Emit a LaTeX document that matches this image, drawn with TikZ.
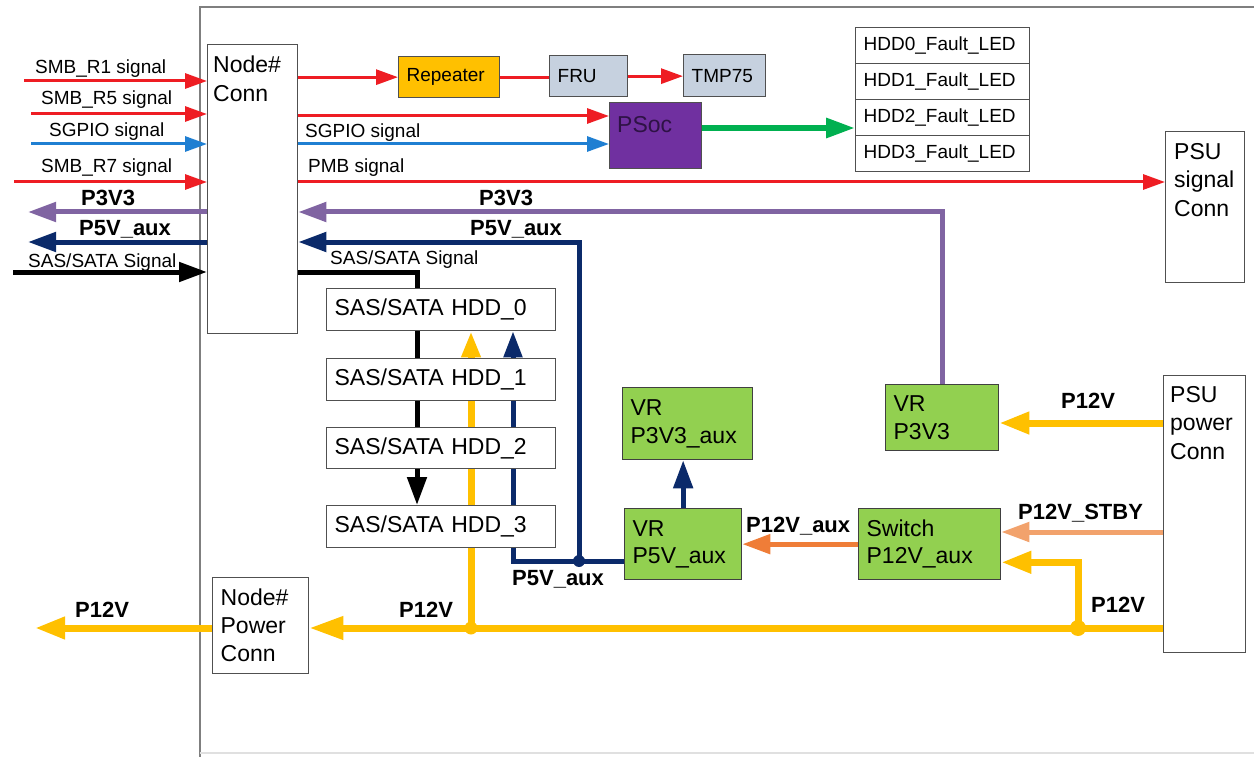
\documentclass[tikz,border=0pt]{standalone}
\usepackage{fontspec}
\setmainfont{Liberation Sans}
\usetikzlibrary{arrows.meta,calc,backgrounds}
\definecolor{cRed}{HTML}{EE1D23}
\definecolor{cBlue}{HTML}{1F7FD2}
\definecolor{cPurple}{HTML}{8064A2}
\definecolor{cNavy}{HTML}{0B2A6A}
\definecolor{cYellow}{HTML}{FFC000}
\definecolor{cOrange}{HTML}{EF7D38}
\definecolor{cPeach}{HTML}{F2A26C}
\definecolor{cGreen}{HTML}{00B050}
\definecolor{cPSoc}{HTML}{7030A0}
\definecolor{cPSocText}{HTML}{2E1245}
\definecolor{cBoxGreen}{HTML}{92D050}
\definecolor{cRep}{HTML}{FFC000}
\definecolor{cGrayBlue}{HTML}{C6D1DF}
\definecolor{cBorder}{HTML}{505050}
\definecolor{cFrame}{HTML}{7F7F7F}
\begin{document}
\begin{tikzpicture}[x=1pt,y=-1pt,
  box/.style={draw=cBorder,line width=1.3pt,anchor=north west,inner xsep=8pt,inner ysep=0pt,align=left,font=\fontsize{23}{27.5}\selectfont},
  sbox/.style={box,font=\fontsize{19}{23}\selectfont},
  gbox/.style={box,fill=cBoxGreen,draw=black!75},
  lbl/.style={anchor=base west,inner sep=0pt,font=\fontsize{19}{23}\selectfont},
  blbl/.style={anchor=base west,inner sep=0pt,font=\fontsize{22}{26}\selectfont\bfseries},
  btxt/.style={anchor=north west,inner sep=0pt,align=left,font=\fontsize{23}{28.5}\selectfont},
  sig/.style={line width=3pt,-{Triangle[length=22pt,width=15pt]}},
  sigline/.style={line width=3pt},
  gsig/.style={cGreen,line width=6pt,-{Triangle[length=29pt,width=19pt]}},
  pwr/.style={line width=5pt,-{Triangle[length=28pt,width=19pt]}},
  pwrline/.style={line width=5pt},
  ypwr/.style={cYellow,line width=7pt,-{Triangle[length=30pt,width=21pt]}},
  dotn/.style={circle,inner sep=0pt,minimum size=12pt},
]
\useasboundingbox (0,0) rectangle (1254,757);

% ---- boxes
\node[box,text width=74pt,minimum height=289pt] (nc) at (207,44) {};
\node[btxt] (ncT) at (213,56) {Node\#\\Conn};
\node[sbox,fill=cRep,text width=85pt,minimum height=41pt] (rep) at (398,56) {Repeater};
\node[sbox,fill=cGrayBlue,text width=62pt,minimum height=41pt] (fru) at (549,55) {FRU};
\node[sbox,fill=cGrayBlue,text width=66pt,minimum height=42pt] (tmp) at (683,54) {TMP75};
\node[box,fill=cPSoc,text width=76pt,minimum height=66pt] (ps) at (609,102) {};
\node[btxt,text=cPSocText] (psT) at (617,116) {PSoc};
\node[sbox,text width=158pt,minimum height=36pt] (led0) at (855,27) {HDD0\_Fault\_LED};
\node[sbox,text width=158pt,minimum height=36pt] (led1) at (855,63) {HDD1\_Fault\_LED};
\node[sbox,text width=158pt,minimum height=36pt] (led2) at (855,99) {HDD2\_Fault\_LED};
\node[sbox,text width=158pt,minimum height=36pt] (led3) at (855,135) {HDD3\_Fault\_LED};
\node[box,text width=63pt,minimum height=151pt] (psus) at (1165,131) {};
\node[btxt] (psusT) at (1174,143) {PSU\\signal\\Conn};
\node[box,fill=white,text width=213pt,minimum height=42pt] (h0) at (326,288) {SAS/SATA HDD\_0};
\node[box,fill=white,text width=213pt,minimum height=42pt] (h1) at (326,358) {SAS/SATA HDD\_1};
\node[box,fill=white,text width=213pt,minimum height=41pt] (h2) at (326,427) {SAS/SATA HDD\_2};
\node[box,fill=white,text width=213pt,minimum height=42pt] (h3) at (326,505) {SAS/SATA HDD\_3};
\node[gbox,text width=114pt,minimum height=72pt] (vr33a) at (622,387) {VR\\P3V3\_aux};
\node[gbox,text width=101pt,minimum height=71pt] (vr5) at (624,508) {VR\\P5V\_aux};
\node[gbox,text width=126pt,minimum height=71pt] (sw) at (858,508) {Switch\\P12V\_aux};
\node[gbox,text width=97pt,minimum height=66pt] (vr33) at (885,384) {VR\\P3V3};
\node[box,text width=66pt,minimum height=277pt] (psup) at (1163,375) {};
\node[btxt] (psupT) at (1170,386) {PSU\\power\\Conn};
\node[box,text width=80pt,minimum height=96pt,font=\fontsize{23}{28}\selectfont] (npc) at (212,577) {Node\#\\Power\\Conn};

% ---- connectors (behind boxes)
\begin{scope}[on background layer]
\draw[cFrame,line width=1.5pt] (200,770) -- (200,7) -- (1270,7);
\draw[black!12,line width=1.5pt] (200,753) -- (1270,753);
\coordinate (aR1) at (24,81);
\coordinate (aR5) at (31,114);
\coordinate (aSG) at (31,144);
\coordinate (aR7) at (14,182);
\coordinate (aP3) at (28,212);
\coordinate (aP5) at (28,242);
\coordinate (aSS) at (13,272);
\draw[sig,cRed] (aR1) -- (aR1 -| nc.west);
\draw[sig,cRed] (aR5) -- (aR5 -| nc.west);
\draw[sig,cBlue] (aSG) -- (aSG -| nc.west);
\draw[sig,cRed] (aR7) -- (aR7 -| nc.west);
\draw[pwr,cPurple] (aP3 -| nc.west) -- (aP3);
\draw[pwr,cNavy] (aP5 -| nc.west) -- (aP5);
\draw[pwr,black] (aSS) -- (aSS -| nc.west);

\draw[sig,cRed] (nc.east |- rep.west) -- (rep.west);
\draw[sigline,cRed] (rep.east) -- (rep.east -| fru.west);
\draw[sig,cRed] (fru.east) -- (fru.east -| tmp.west);
\coordinate (psA) at ($(ps.north west)+(0,14)$);
\coordinate (psB) at ($(ps.north west)+(0,42)$);
\draw[sig,cRed] (nc.east |- psA) -- (psA);
\draw[sig,cBlue] (nc.east |- psB) -- (psB);
\coordinate (ledIn) at ($(led2.north west)+(0,29)$);
\draw[gsig] (ps.east |- ledIn) -- (ledIn);
\coordinate (pmbE) at ($(psus.north west)+(0,51)$);
\draw[sig,cRed] (nc.east |- pmbE) -- (pmbE);

\draw[pwr,cPurple] (vr33.north) |- (nc.east |- aP3);
\coordinate (j1) at (579,561);
\draw[pwr,cNavy] (j1) |- (nc.east |- aP5);
\coordinate (sX) at (417,0);
\draw[pwrline] (nc.east |- aSS) -| (h0.north -| sX);
\draw[pwrline] (h0.south -| sX) -- (h1.north -| sX);
\draw[pwrline] (h1.south -| sX) -- (h2.north -| sX);
\draw[pwr] (h2.south -| sX) -- (h3.north -| sX);
\coordinate (j2) at (471,628);
\draw[ypwr,-{Triangle[length=26pt,width=18pt]}] (j2) -- (h0.south -| j2);
\coordinate (nX) at (513,0);
\draw[pwr,cNavy,-{Triangle[length=26pt,width=18pt]}] (j1) -| (h0.south -| nX);
\draw[pwrline,cNavy] (j1) -- (j1 -| vr5.west);
\draw[pwr,cNavy] (vr5.north) -- (vr5.north |- vr33a.south);
\draw[pwr,cOrange] (sw.west) -- (sw.west -| vr5.east);

\coordinate (pA) at ($(psup.north west)+(0,48)$);
\coordinate (pB) at ($(psup.north west)+(0,157)$);
\coordinate (pC) at ($(psup.north west)+(0,253)$);
\draw[ypwr] (pA) -- (pA -| vr33.east);
\draw[pwr,cPeach] (pB) -- (pB -| sw.east);
\draw[ypwr,-{Triangle[length=34pt,width=22pt]}] (pC) -- (pC -| npc.east);
\coordinate (j3) at (1078,628);
\coordinate (swIn) at ($(sw.south east)+(0,-18)$);
\draw[ypwr] (j3) |- (swIn);
\coordinate (aP12) at (35,628);
\draw[ypwr] (npc.west |- aP12) -- (aP12);
\end{scope}

\node[dotn,fill=cNavy] (d1) at (j1) {};
\node[dotn,fill=cYellow,minimum size=13pt] (d2) at (j2) {};
\node[dotn,fill=cYellow,minimum size=16pt] (d3) at (j3) {};

% ---- labels
\node[lbl] (tR1) at (35,74) {SMB\_R1 signal};
\node[lbl] (tR5) at (41,105) {SMB\_R5 signal};
\node[lbl] (tSG) at (49,137) {SGPIO signal};
\node[lbl] (tR7) at (41,173) {SMB\_R7 signal};
\node[blbl] (tP3L) at (81,205) {P3V3};
\node[blbl] (tP5L) at (79,235) {P5V\_aux};
\node[lbl] (tSSL) at (28,267) {SAS/SATA Signal};
\node[lbl] (tSGR) at (305,138) {SGPIO signal};
\node[lbl] (tPMB) at (308,173) {PMB signal};
\node[blbl] (tP3R) at (479,206) {P3V3};
\node[blbl] (tP5R) at (470,235) {P5V\_aux};
\node[lbl] (tSSR) at (330,265) {SAS/SATA Signal};
\node[blbl] (tP5B) at (512,585) {P5V\_aux};
\node[blbl] (tP12L) at (75,617) {P12V};
\node[blbl] (tP12M) at (399,617) {P12V};
\node[blbl] (tP12aux) at (746,532) {P12V\_aux};
\node[blbl] (tP12T) at (1061,408) {P12V};
\node[blbl] (tSTBY) at (1018,519) {P12V\_STBY};
\node[blbl] (tP12R) at (1091,612) {P12V};
\end{tikzpicture}
\end{document}
